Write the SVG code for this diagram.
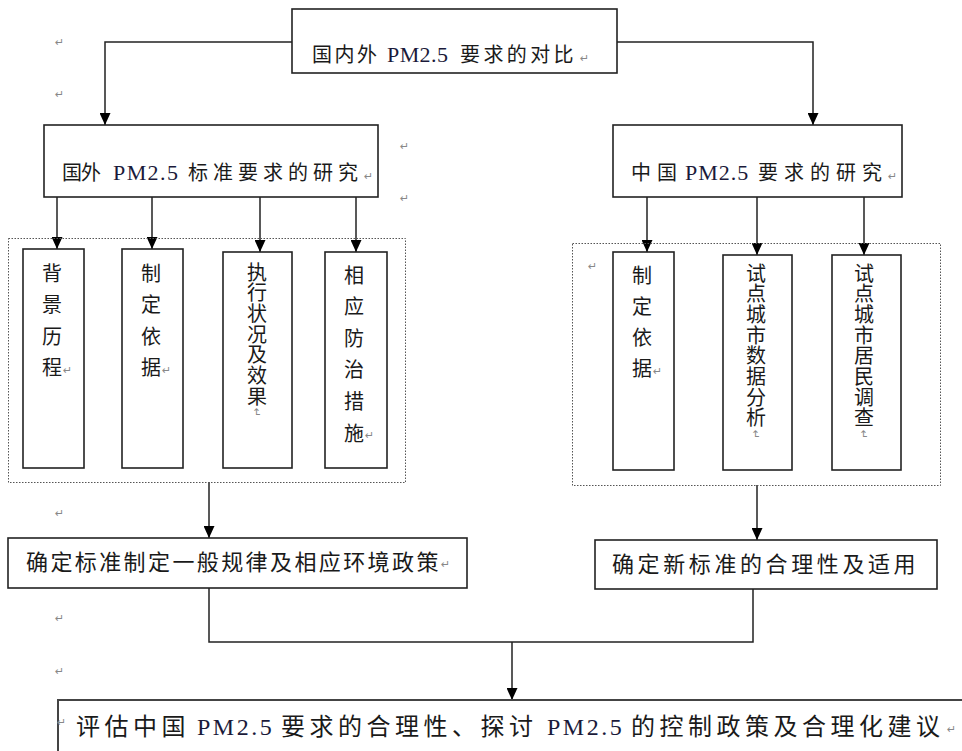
<svg xmlns="http://www.w3.org/2000/svg" width="962" height="751" viewBox="0 0 962 751">
<defs>
<marker id="ah" viewBox="0 0 12 11" refX="12" refY="5.5" markerWidth="12" markerHeight="11" markerUnits="userSpaceOnUse" orient="auto">
<path d="M0,0 L12,5.5 L0,11 z" fill="#000"/>
</marker>
<style>
.box{fill:#fff;stroke:#222;stroke-width:1.6}
.dot{fill:none;stroke:#555;stroke-width:1;stroke-dasharray:1.5 1.5}
.ln{fill:none;stroke:#222;stroke-width:1.5}
.ar{fill:none;stroke:#222;stroke-width:1.5;marker-end:url(#ah)}
.t{font-family:"Noto Sans CJK SC","Liberation Sans",sans-serif;fill:#1a1a1a}
.en{font-family:"Liberation Serif","Noto Sans CJK SC",serif;fill:#1a1a3a}
.v{font-family:"Noto Sans CJK SC",sans-serif;font-size:20px;fill:#1a1a1a;writing-mode:vertical-rl}
.pm{font-family:"DejaVu Sans",sans-serif;font-size:11px;fill:#888}
</style>
</defs>

<g id="connectors">
<path class="ar" d="M292,42 H105 V125"/>
<path class="ar" d="M617,42 H813 V125"/>
<path class="ar" d="M57,197 V249"/>
<path class="ar" d="M152,197 V249"/>
<path class="ar" d="M260,197 V252"/>
<path class="ar" d="M356,197 V252"/>
<path class="ar" d="M647,197 V252"/>
<path class="ar" d="M757,197 V255"/>
<path class="ar" d="M864,197 V255"/>
<path class="ar" d="M209,482 V538"/>
<path class="ar" d="M757,485 V540"/>
<path class="ln" d="M209,588 V642 H753 V589"/>
<path class="ar" d="M512,642 V700"/>
</g>

<g id="groupLeft"><rect class="dot" x="8.5" y="238.5" width="397" height="244"/></g>
<g id="groupRight"><rect class="dot" x="572.5" y="243.5" width="368" height="242"/></g>

<g id="top">
<rect class="box" x="292" y="9" width="325" height="64"/>
<text class="t" y="62" font-size="20"><tspan x="312" letter-spacing="2.5">国内外</tspan><tspan class="en" x="387" font-size="22" letter-spacing="0.4">PM2.5</tspan><tspan x="460" letter-spacing="3.4">要求的对比</tspan></text>
<text x="580" y="62" class="pm">↵</text>
</g>

<g id="foreign">
<rect class="box" x="44" y="125" width="334" height="72"/>
<text class="t" y="180" font-size="20"><tspan x="62" letter-spacing="-1">国外</tspan><tspan class="en" x="113" font-size="22" letter-spacing="1.4">PM2.5</tspan><tspan x="188" letter-spacing="5">标准要求的研究</tspan></text>
<text x="364" y="180" class="pm">↵</text>
</g>

<g id="china">
<rect class="box" x="613" y="125" width="289" height="72"/>
<text class="t" y="180" font-size="20"><tspan x="631" letter-spacing="6">中国</tspan><tspan class="en" x="685" font-size="22" letter-spacing="1">PM2.5</tspan><tspan x="758" letter-spacing="6">要求的研究</tspan></text>
<text x="888" y="180" class="pm">↵</text>
</g>

<g id="f1">
<rect class="box" x="23" y="249" width="61" height="219"/>
<text class="v" x="52" y="263" letter-spacing="11.5">背景历程</text>
<text class="pm" x="63" y="374">↵</text>
</g>

<g id="f2">
<rect class="box" x="122" y="249" width="61" height="219"/>
<text class="v" x="151" y="263" letter-spacing="11.5">制定依据</text>
<text class="pm" x="162" y="374">↵</text>
</g>

<g id="f3">
<rect class="box" x="223" y="252" width="69" height="216"/>
<text class="v" x="257" y="262" letter-spacing="0.7">执行状况及效果</text>
<text class="pm" transform="translate(253,408) rotate(90)">↵</text>
</g>

<g id="f4">
<rect class="box" x="325" y="252" width="62" height="216"/>
<text class="v" x="354" y="265" letter-spacing="11.6">相应防治措施</text>
<text class="pm" x="365" y="439">↵</text>
</g>

<g id="c1">
<rect class="box" x="613" y="252" width="61" height="218"/>
<text class="v" x="642" y="265" letter-spacing="11.3">制定依据</text>
<text class="pm" x="653" y="375">↵</text>
</g>

<g id="c2">
<rect class="box" x="723" y="255" width="69" height="215"/>
<text class="v" x="756" y="263" letter-spacing="0.7">试点城市数据分析</text>
<text class="pm" transform="translate(752,430) rotate(90)">↵</text>
</g>

<g id="c3">
<rect class="box" x="832" y="255" width="69" height="215"/>
<text class="v" x="864" y="263" letter-spacing="0.7">试点城市居民调查</text>
<text class="pm" transform="translate(860,430) rotate(90)">↵</text>
</g>

<g id="ruleLeft">
<rect class="box" x="8" y="538" width="459" height="50"/>
<text class="t" x="26" y="570" font-size="22" letter-spacing="2.4">确定标准制定一般规律及相应环境政策</text>
<text x="441" y="568" class="pm">↵</text>
</g>

<g id="ruleRight">
<rect class="box" x="595" y="540" width="342" height="49"/>
<text class="t" x="612" y="572" font-size="22" letter-spacing="3.6">确定新标准的合理性及适用</text>
</g>

<g id="final">
<rect class="box" x="58" y="700" width="930" height="80" style="stroke:#444;stroke-width:2"/>
<text class="t" y="735" font-size="24"><tspan x="76" letter-spacing="4.5">评估中国</tspan><tspan class="en" x="197" letter-spacing="2.5">PM2.5</tspan><tspan x="281" letter-spacing="4.5">要求的合理性、探讨</tspan><tspan class="en" x="547" letter-spacing="2.5">PM2.5</tspan><tspan x="631" letter-spacing="4.5">的控制政策及合理化建议</tspan></text>
<text x="947" y="733" class="pm">↵</text>
<text class="pm" x="57" y="726">↵</text>
</g>

<g id="marks">
<text class="pm" x="55" y="46">↵</text>
<text class="pm" x="55" y="98">↵</text>
<text class="pm" x="400" y="150">↵</text>
<text class="pm" x="400" y="202">↵</text>
<text class="pm" x="588" y="270">↵</text>
<text class="pm" x="55" y="517">↵</text>
<text class="pm" x="55" y="622">↵</text>
<text class="pm" x="55" y="675">↵</text>
</g>
</svg>
